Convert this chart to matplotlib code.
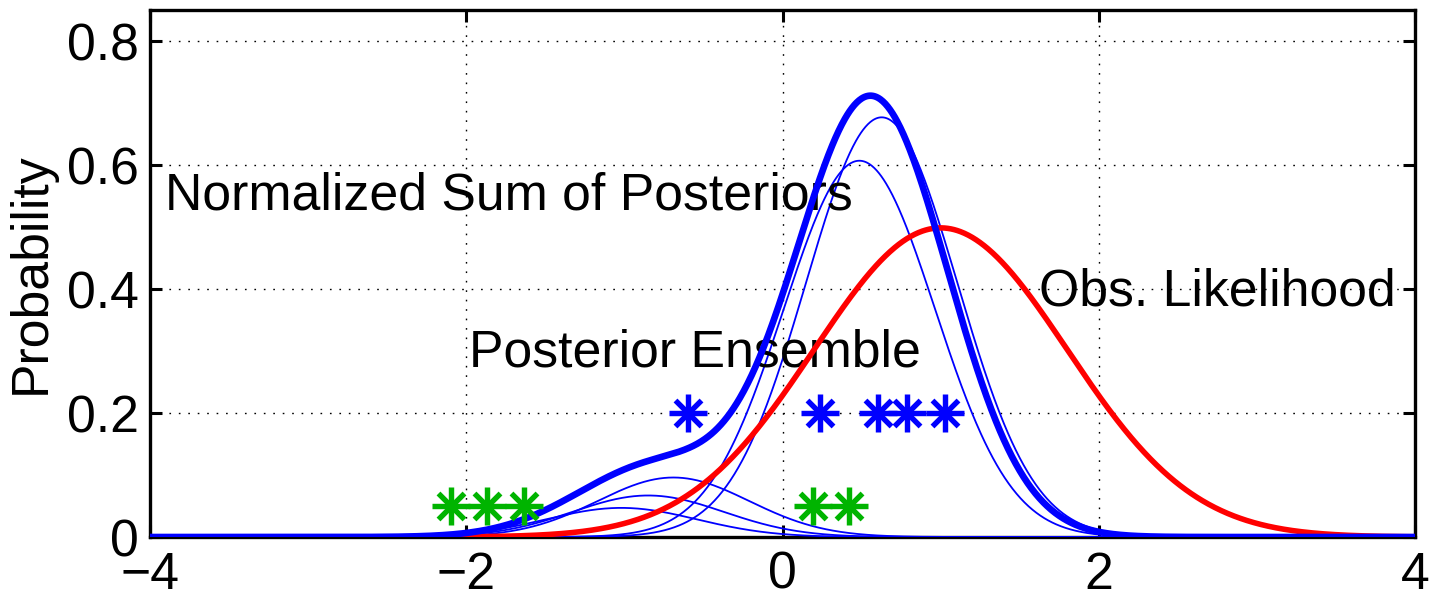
import numpy as np
import matplotlib

matplotlib.use("Agg")
import matplotlib.pyplot as plt

# ----------------- DATA -----------------
# thin posterior kernels: centre, peak height, shared spread
post_means = [-1.02, -0.85, -0.69, 0.486, 0.627]
post_peaks = [0.047, 0.067, 0.096, 0.607, 0.677]
post_sd = 0.478

# observation likelihood
obs_mean, obs_sd = 1.0, 0.8

# ensemble members
prior_x = [-2.096, -1.868, -1.632, 0.190, 0.422]
prior_y = [0.05] * 5
posterior_x = [-0.597, 0.236, 0.606, 0.785, 1.028]
posterior_y = [0.2] * 5

xticks = [-4, -2, 0, 2, 4]
xticklabels = ["\u22124", "\u22122", "0", "2", "4"]
yticks = [0, 0.2, 0.4, 0.6, 0.8]
yticklabels = ["0", "0.2", "0.4", "0.6", "0.8"]
# -----------------------------------------------------------------

plt.rcParams["font.family"] = ["Liberation Sans", "DejaVu Sans"]
FS = 37.3
GREEN = "#00b400"

x = np.linspace(-4, 4, 1601)
thin = [p * np.exp(-0.5 * ((x - m) / post_sd) ** 2) for m, p in zip(post_means, post_peaks)]
total = np.sum(thin, axis=0)
total = total / np.trapezoid(total, x)
lik = np.exp(-0.5 * ((x - obs_mean) / obs_sd) ** 2) / (obs_sd * np.sqrt(2 * np.pi))

fig = plt.figure(figsize=(14.37, 5.93), dpi=100)
ax = fig.add_axes([0.1044, 0.0944, 0.8803, 0.8886])

for c in thin:
    ax.plot(x, c, color="#0000ff", linewidth=1.3, zorder=3)
ax.plot(x, lik, color="#ff0000", linewidth=4.0, zorder=4)
ax.plot(x, total, color="#0000ff", linewidth=4.8, zorder=5)

for xs, ys, col in ((prior_x, prior_y, GREEN), (posterior_x, posterior_y, "#0000ff")):
    ax.plot(xs, ys, linestyle="none", marker="+", markersize=27, mew=3.9, color=col, zorder=6)
    ax.plot(xs, ys, linestyle="none", marker="x", markersize=19, mew=3.9, color=col, zorder=6)

ax.text(-3.905, 0.55, "Normalized Sum of Posteriors", fontsize=FS, va="center", ha="left")
ax.text(-1.98, 0.297, "Posterior Ensemble", fontsize=FS, va="center", ha="left")
ax.text(1.62, 0.396, "Obs. Likelihood", fontsize=FS, va="center", ha="left")

ax.set_xlim(-4, 4)
ax.set_ylim(0, 0.85)
ax.set_xticks(xticks)
ax.set_xticklabels(xticklabels)
ax.set_yticks(yticks)
ax.set_yticklabels(yticklabels)
ax.set_ylabel("Probability", fontsize=FS, labelpad=8)
ax.tick_params(direction="in", length=8.5, width=2.2, labelsize=FS, pad=8,
               top=True, right=True, colors="black")
ax.tick_params(axis="x", pad=10)
ax.grid(True, color="black", linestyle=(0, (1.2, 5.6)), linewidth=1.0, zorder=1)
ax.set_axisbelow(True)
for s in ax.spines.values():
    s.set_linewidth(2.4)

fig.savefig("out.png", dpi=100)
